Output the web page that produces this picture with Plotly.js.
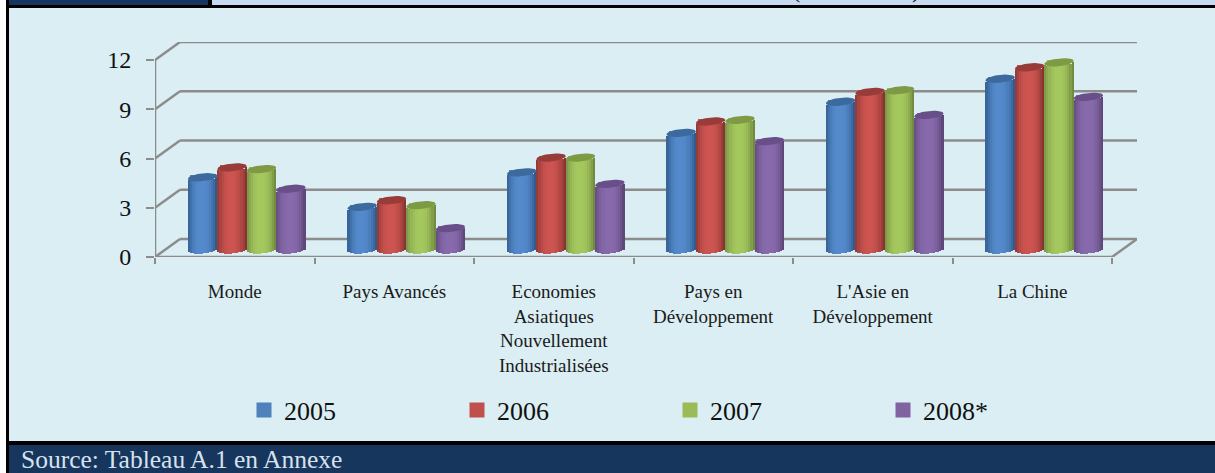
<!DOCTYPE html>
<html><head><meta charset="utf-8">
<script src="https://cdn.plot.ly/plotly-3.0.1.min.js"></script>
<style>html,body{margin:0;padding:0;background:#fff;overflow:hidden}#c{width:1215px;height:473px}</style>
</head><body><div id="c"></div>
<script>
var categories = ['Monde','Pays Avancés','Economies<br>Asiatiques<br>Nouvellement<br>Industrialisées','Pays en<br>Développement',"L'Asie en<br>Développement",'La Chine'];
var v2005 = [4.4,2.6,4.7,7.1,9.0,10.4];
var v2006 = [5.0,3.0,5.6,7.8,9.6,11.1];
var v2007 = [4.9,2.7,5.6,7.9,9.7,11.4];
var v2008 = [3.7,1.3,4.0,6.6,8.2,9.3];
var seriesNames = ['2005','2006','2007','2008*'];
var seriesValues = [v2005,v2006,v2007,v2008];
var centreColors = ['#4f81bd','#c0504d','#9bbb59','#8064a2'];
var brightColors = [[84,138,204],[205,84,80],[165,200,94],[136,106,172]];
var edgeColors = [[46,88,136],[130,50,48],[112,136,62],[92,70,118]];
var capColors = ['#3c6a9e','#983c3a','#7f9a45','#694f8a'];
var yTicks = [0,3,6,9,12];

var W=1215,H=473,L=155,R=1137,T=42,B=257;
var unitX=159.5, unitY=197/12;
var depthX=25/unitX, depthY=18/unitY;
function xp(p){return (p-L)/(R-L);}
function yp(p){return (B-p)/(B-T);}
var barW=29.4/unitX, shiftX=12/unitX, lift=7.5/unitY, capB=3.9/unitY, tilt=1.5/unitY;
var traces=[], N=14;
seriesValues.forEach(function(vals,s){
  var xs=vals.map(function(_,i){return i+0.5+shiftX+(s-1.5)*barW;});
  traces.push({type:'bar',name:seriesNames[s],x:xs,y:vals,base:vals.map(function(){return lift;}),
    width:barW*0.7,marker:{color:centreColors[s],line:{color:centreColors[s],width:3}},hoverinfo:'skip',showlegend:true});
  for(var k=0;k<N;k++){
    var u=(k+0.5)/N*2-1;
    var d=-capB*Math.sqrt(1-u*u)+tilt*u;
    var m=Math.min(1,Math.pow(Math.abs(u+0.05),2.4));
    var c=brightColors[s].map(function(b,j){return Math.round(b+(edgeColors[s][j]-b)*m);});
    traces.push({type:'bar',x:xs.map(function(x){return x+u*barW/2;}),y:vals,
      base:vals.map(function(){return lift+d;}),width:barW/N*1.04,
      marker:{color:'rgb('+c.join(',')+')',line:{width:0}},hoverinfo:'skip',showlegend:false});
  }
});
seriesValues.forEach(function(vals,s){
  var ex=[],ey=[];
  vals.forEach(function(v,i){
    var cx=i+0.5+shiftX+(s-1.5)*barW;
    for(var a=0;a<=36;a++){var t=a/36*2*Math.PI,c=Math.cos(t);
      ex.push(cx+c*barW/2); ey.push(v+lift+capB*Math.sin(t)+tilt*c);}
    ex.push(null);ey.push(null);
  });
  traces.push({type:'scatter',mode:'lines',x:ex,y:ey,fill:'toself',fillcolor:capColors[s],
    line:{width:0,color:capColors[s]},hoverinfo:'skip',showlegend:false});
});

var grey='#8c8c8c', shapes=[];
function pr(x0,y0,x1,y1,col){shapes.push({type:'rect',xref:'paper',yref:'paper',x0:xp(x0),x1:xp(x1),y0:yp(y0),y1:yp(y1),fillcolor:col,line:{width:0},layer:'below'});}
pr(0,0,6,473,'#ffffff');
pr(6,0,9,473,'#000000');
pr(9,0,208,5,'#17365d');
pr(212,0,1215,5,'#c6d9f1');
pr(9,5,1215,8,'#000000');
pr(208,0,212,8,'#000000');
pr(9,441,1215,445,'#000000');
pr(9,445,1215,473,'#17365d');
function ln(x0,y0,x1,y1){shapes.push({type:'line',xref:'x',yref:'y',x0:x0,y0:y0,x1:x1,y1:y1,line:{color:grey,width:2.5},layer:'below'});}
yTicks.forEach(function(v){
  ln(0,v,depthX,v+depthY);
  ln(depthX,v+depthY,6+depthX,v+depthY);
});
ln(0,0,0,12);
ln(0,0,6,0);
ln(6,0,6+depthX,depthY);

var serif='"Liberation Serif", serif';
var layout={
  width:W,height:H,
  margin:{l:L,r:W-R,t:T,b:H-B,pad:0,autoexpand:false},
  paper_bgcolor:'#daeef3',plot_bgcolor:'rgba(0,0,0,0)',
  barmode:'overlay',bargap:0,showlegend:true,
  font:{family:serif,color:'#111111'},
  xaxis:{range:[0,6+depthX],tickmode:'array',tickvals:categories.map(function(_,i){return i+0.5;}),ticktext:categories,
    ticks:'',ticklen:0,showgrid:false,zeroline:false,showline:false,tickangle:0,ticklabelstandoff:21,
    tickfont:{family:serif,size:19,color:'#1a1a1a'},
    minor:{tickmode:'array',tickvals:[0,1,2,3,4,5,6],ticks:'outside',ticklen:6,tickwidth:2,tickcolor:grey,showgrid:false}},
  yaxis:{range:[0,(B-T)/unitY],tickmode:'array',tickvals:yTicks,ticktext:yTicks.map(String),ticks:'outside',ticklen:8,tickwidth:2,tickcolor:grey,
    showgrid:false,zeroline:false,showline:false,ticklabelstandoff:10,tickfont:{family:serif,size:24,color:'#111111'}},
  legend:{orientation:'h',x:xp(244),y:yp(410),xanchor:'left',yanchor:'middle',entrywidth:168,entrywidthmode:'pixels',
    font:{family:serif,size:26,color:'#111111'},bgcolor:'rgba(0,0,0,0)',itemclick:false,itemdoubleclick:false,traceorder:'normal'},
  shapes:shapes,
  annotations:[
    {xref:'paper',yref:'paper',x:xp(19),y:yp(459),xanchor:'left',yanchor:'middle',text:'Source: Tableau A.1 en Annexe',showarrow:false,
      font:{family:serif,size:25.5,color:'#d8e2ee'}},
    {xref:'paper',yref:'paper',x:xp(796),y:yp(5),xanchor:'center',yanchor:'bottom',text:'(',showarrow:false,font:{family:serif,size:22,color:'#111111'}},
    {xref:'paper',yref:'paper',x:xp(915),y:yp(5),xanchor:'center',yanchor:'bottom',text:')',showarrow:false,font:{family:serif,size:22,color:'#111111'}}
  ]
};
Plotly.newPlot('c',traces,layout,{displayModeBar:false});
</script></body></html>
